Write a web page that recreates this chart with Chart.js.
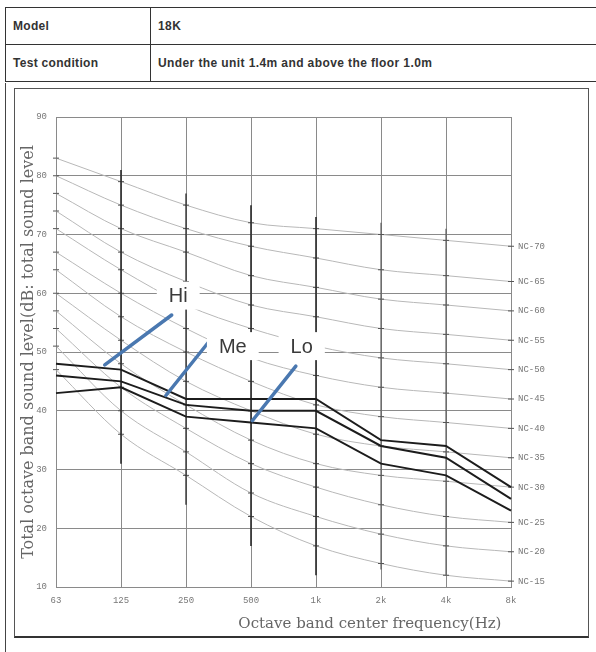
<!DOCTYPE html>
<html>
<head>
<meta charset="utf-8">
<script src="https://cdn.jsdelivr.net/npm/chart.js@4/dist/chart.umd.min.js"></script>
<style>
  html, body { margin: 0; padding: 0; background: #fff; }
  body { width: 596px; height: 652px; position: relative; overflow: hidden; font-family: "Liberation Sans", Arial, sans-serif; }
  table.info { position: absolute; left: 5px; top: 7px; width: 620px; border-collapse: collapse; z-index: 3; background: #fff; }
  table.info td { border: 1px solid #333; height: 36px; padding: 0 0 0 7px; font-size: 12px; font-weight: bold; color: #333; letter-spacing: 0.4px; }
  table.info td.k { width: 137px; letter-spacing: 0.3px; }
  .outer { position: absolute; left: 5px; top: 83px; width: 600px; height: 580px; border-left: 1px solid #444; border-right: 1px solid #444; }
  .inner { position: absolute; left: 14px; top: 88px; width: 573px; height: 547px; border: 1px solid #555; border-bottom: 2px solid #333; }
  #wrap { position: absolute; left: 0; top: 0; width: 596px; height: 652px; z-index: 2; }
</style>
</head>
<body>
<table class="info">
  <tr><td class="k">Model</td><td>18K</td></tr>
  <tr><td class="k">Test condition</td><td>Under the unit 1.4m and above the floor 1.0m</td></tr>
</table>
<div class="outer"></div>
<div class="inner"></div>
<div id="wrap"><canvas id="nc-chart" width="596" height="652"></canvas></div>

<script>
// --- datos ---
const freqLabels = ['63', '125', '250', '500', '1k', '2k', '4k', '8k'];
const hiLevel = [48, 47, 42, 42, 42, 35, 34, 27];
const meLevel = [46, 45, 41, 40, 40, 34, 32, 25];
const loLevel = [43, 44, 39, 38, 37, 31, 29, 23];

// curvas NC (63 ... 8k)
const ncNames = ['NC-70', 'NC-65', 'NC-60', 'NC-55', 'NC-50', 'NC-45', 'NC-40', 'NC-35', 'NC-30', 'NC-25', 'NC-20', 'NC-15'];
const nc70 = [83, 79, 75, 72, 71, 70, 69, 68];
const nc65 = [80, 75, 71, 68, 66, 64, 63, 62];
const nc60 = [77, 71, 67, 63, 61, 59, 58, 57];
const nc55 = [74, 67, 62, 58, 56, 54, 53, 52];
const nc50 = [71, 64, 58, 54, 51, 49, 48, 47];
const nc45 = [67, 60, 54, 49, 46, 44, 43, 42];
const nc40 = [64, 56, 50, 45, 41, 39, 38, 37];
const nc35 = [60, 52, 45, 40, 36, 34, 33, 32];
const nc30 = [57, 48, 41, 35, 31, 29, 28, 27];
const nc25 = [54, 44, 37, 31, 27, 24, 22, 21];
const nc20 = [51, 40, 33, 26, 22, 19, 17, 16];
const nc15 = [47, 36, 29, 22, 17, 14, 12, 11];
const ncCurves = [nc70, nc65, nc60, nc55, nc50, nc45, nc40, nc35, nc30, nc25, nc20, nc15];

// tramos verticales oscuros (escala de marcas) por frecuencia
const spanFreqs = ['125', '250', '500', '1k', '2k', '4k'];
const spanTop = [81, 77, 75, 73, 72, 71];
const spanBottom = [31, 24, 17, 12, 13, 12];

const yTicks = [10, 20, 30, 40, 50, 60, 70, 80, 90];

// etiquetas Hi / Me / Lo (en unidades de datos: índice de banda, dB)
const callouts = [
  { text: 'Hi', from: [0.75, 47.8], to: [1.78, 56.3], at: [1.88, 59.6] },
  { text: 'Me', from: [1.69, 42.6], to: [2.37, 52.0], at: [2.72, 51.0] },
  { text: 'Lo', from: [3.02, 38.3], to: [3.69, 47.6], at: [3.78, 51.0] }
];

const datasets = [];

ncCurves.forEach((vals, i) => {
  datasets.push({
    label: ncNames[i],
    data: vals,
    borderColor: '#b8b8b8',
    borderWidth: 1,
    cubicInterpolationMode: 'monotone',
    pointStyle: 'line',
    pointRadius: 3,
    pointBorderColor: '#555',
    pointBorderWidth: 1,
    order: 5
  });
});

spanFreqs.forEach((f, i) => {
  datasets.push({
    label: 'span ' + f,
    data: [{ x: f, y: spanTop[i] }, { x: f, y: spanBottom[i] }],
    borderColor: i < 4 ? '#2a2a2a' : '#555',
    borderWidth: i === 1 ? 1.3 : (i < 4 ? 1.6 : 1.1),
    pointRadius: 0,
    order: 4
  });
});

[hiLevel, meLevel, loLevel].forEach((vals, i) => {
  datasets.push({
    label: ['Hi', 'Me', 'Lo'][i],
    data: vals,
    borderColor: '#1c1c1c',
    borderWidth: 2,
    tension: 0,
    pointRadius: 0,
    order: 1
  });
});

// plugin: etiquetas NC a la derecha y anotaciones Hi/Me/Lo
const extrasPlugin = {
  id: 'extras',
  afterDatasetsDraw(chart) {
    const { ctx, chartArea, scales } = chart;
    const xs = scales.x, ys = scales.y;
    ctx.save();
    ctx.font = '9px "Liberation Mono", monospace';
    ctx.fillStyle = '#777';
    ctx.textAlign = 'left';
    ctx.textBaseline = 'middle';
    ncCurves.forEach((vals, i) => {
      ctx.fillText(ncNames[i], chartArea.right + 7, ys.getPixelForValue(vals[vals.length - 1]));
    });

    callouts.forEach(c => {
      ctx.strokeStyle = '#4a78b0';
      ctx.lineWidth = 3.5;
      ctx.lineCap = 'round';
      ctx.beginPath();
      ctx.moveTo(xs.getPixelForValue(c.from[0]), ys.getPixelForValue(c.from[1]));
      ctx.lineTo(xs.getPixelForValue(c.to[0]), ys.getPixelForValue(c.to[1]));
      ctx.stroke();

      ctx.font = '20px "Liberation Sans", Arial, sans-serif';
      const w = ctx.measureText(c.text).width;
      const cx = xs.getPixelForValue(c.at[0]);
      const cy = ys.getPixelForValue(c.at[1]);
      ctx.fillStyle = '#fff';
      ctx.fillRect(cx - w / 2 - 12, cy - 14, w + 24, 28);
      ctx.fillStyle = '#3a3a3a';
      ctx.textAlign = 'center';
      ctx.fillText(c.text, cx, cy + 1);
    });
    ctx.restore();
  }
};

const ctxNc = document.getElementById('nc-chart').getContext('2d');
new Chart(ctxNc, {
  type: 'line',
  data: { labels: freqLabels, datasets: datasets },
  options: {
    responsive: false,
    animation: false,
    layout: { padding: { left: 0, right: 85, top: 117, bottom: 0 } },
    plugins: { legend: { display: false }, tooltip: { enabled: false } },
    scales: {
      x: {
        type: 'category',
        offset: false,
        afterFit: s => { s.height = 65; },
        grid: { color: '#8a8a8a', lineWidth: 1, drawTicks: false },
        border: { color: '#8a8a8a' },
        ticks: { color: '#777', font: { family: 'Liberation Mono', size: 9 }, padding: 8, maxRotation: 0, autoSkip: false },
        title: {
          display: true,
          text: 'Octave band center frequency(Hz)  ',
          align: 'end',
          color: '#666',
          font: { family: 'DejaVu Serif', size: 15 },
          padding: { top: 0, bottom: 19 }
        }
      },
      y: {
        min: 10,
        max: 90,
        afterFit: s => { s.width = 56; },
        afterBuildTicks: s => { s.ticks = yTicks.map(v => ({ value: v })); },
        grid: { color: '#8a8a8a', lineWidth: 1, drawTicks: false },
        border: { color: '#8a8a8a' },
        ticks: { color: '#777', font: { family: 'Liberation Mono', size: 9 }, padding: 9 },
        title: {
          display: true,
          text: 'Total octave band sound level(dB: total sound level',
          color: '#666',
          font: { family: 'DejaVu Serif', size: 16 },
          padding: { top: 19, bottom: 0 }
        }
      }
    }
  },
  plugins: [extrasPlugin]
});
</script>
</body>
</html>
